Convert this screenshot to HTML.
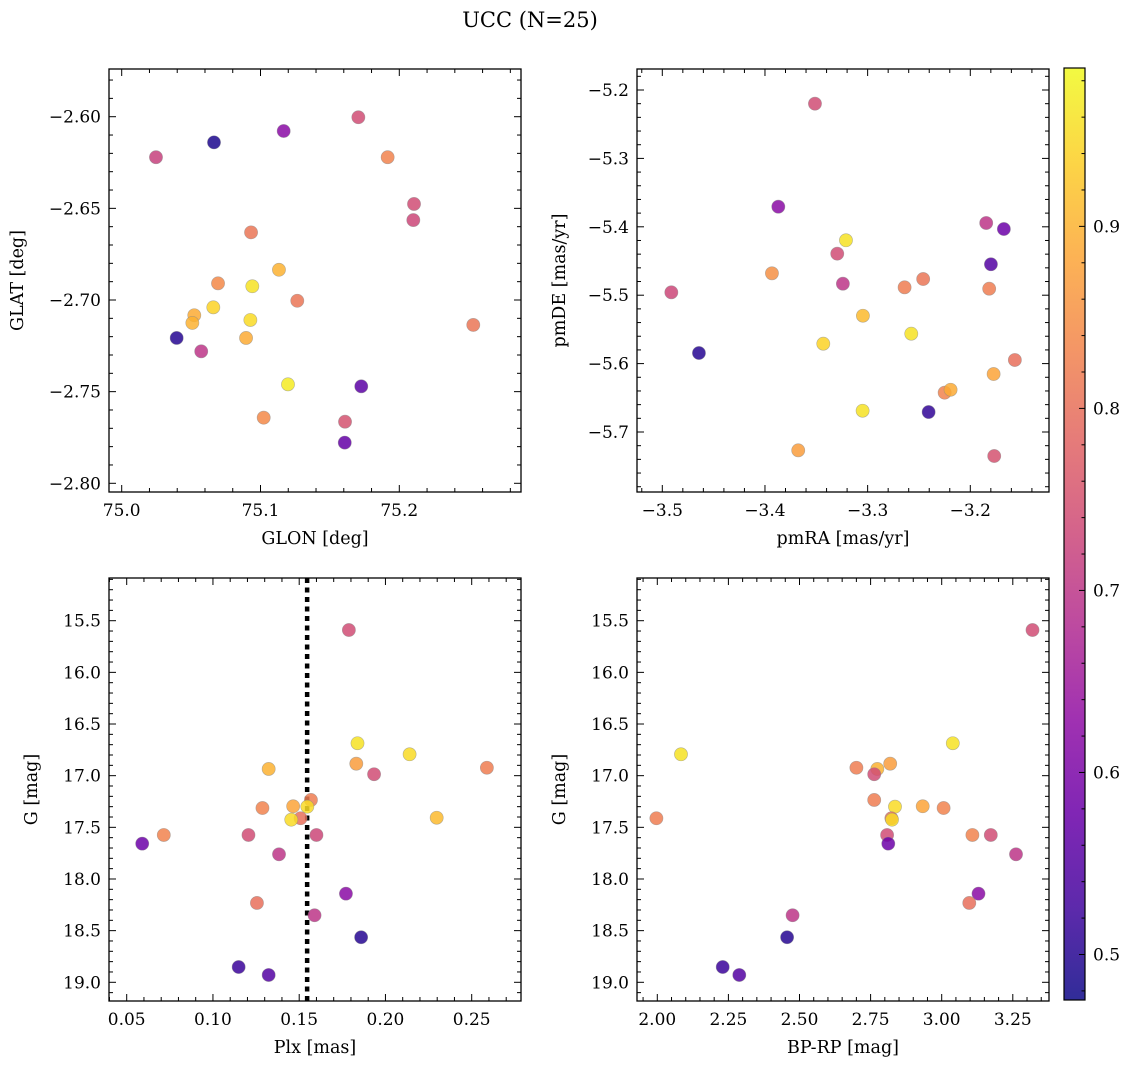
<!DOCTYPE html>
<html><head><meta charset="utf-8">
<style>
html,body{margin:0;padding:0;background:#fff;}
svg{display:block;font-family:"DejaVu Serif","Liberation Serif",serif;}
</style></head>
<body>
<svg id="fig" width="1136" height="1068" viewBox="0 0 1136 1068" xmlns="http://www.w3.org/2000/svg">
<text x="530" y="27" text-anchor="middle" font-size="21">UCC (N=25)</text>
</svg>
<script>
// ---- data (per panel) ----
const glon = [75.0247,75.0665,75.1167,75.1705,75.1916,75.2106,75.2101,75.0932,75.1133,75.0694,75.0941,75.1265,75.0660,75.0523,75.0509,75.0927,75.0396,75.0573,75.0896,75.2533,75.1198,75.1726,75.1023,75.1609,75.1607];
const glat = [-2.6221,-2.6140,-2.6078,-2.6003,-2.6221,-2.6476,-2.6564,-2.6631,-2.6835,-2.6909,-2.6925,-2.7004,-2.7040,-2.7083,-2.7125,-2.7109,-2.7207,-2.7280,-2.7207,-2.7136,-2.7460,-2.7471,-2.7642,-2.7664,-2.7778];
const probA = [0.72,0.49,0.62,0.74,0.83,0.74,0.73,0.81,0.90,0.84,0.96,0.81,0.94,0.89,0.90,0.95,0.50,0.70,0.89,0.81,0.97,0.56,0.84,0.75,0.57];

const pmra = [-3.3513,-3.3870,-3.1845,-3.1673,-3.3211,-3.3296,-3.1799,-3.3932,-3.2459,-3.3241,-3.2640,-3.1816,-3.4912,-3.3046,-3.2575,-3.3432,-3.4643,-3.1566,-3.1773,-3.2250,-3.2192,-3.3049,-3.2406,-3.3676,-3.1767];
const pmde = [-5.2200,-5.3706,-5.3944,-5.4032,-5.4197,-5.4393,-5.4548,-5.4680,-5.4763,-5.4832,-5.4885,-5.4905,-5.4958,-5.5300,-5.5563,-5.5709,-5.5845,-5.5947,-5.6152,-5.6425,-5.6382,-5.6689,-5.6708,-5.7268,-5.7351];
const probB = [0.74,0.62,0.70,0.58,0.96,0.74,0.55,0.85,0.81,0.70,0.82,0.82,0.73,0.91,0.96,0.94,0.50,0.80,0.88,0.83,0.89,0.96,0.51,0.87,0.75];

const plx = [0.1788,0.1838,0.2140,0.1323,0.1831,0.2588,0.1934,0.1568,0.1287,0.1465,0.1547,0.1508,0.1454,0.2297,0.0715,0.0590,0.1206,0.1600,0.1383,0.1771,0.1255,0.1589,0.1859,0.1149,0.1323];
const gC = [15.590,16.686,16.793,16.935,16.884,16.923,16.986,17.235,17.313,17.296,17.300,17.412,17.426,17.407,17.574,17.658,17.574,17.574,17.761,18.142,18.232,18.351,18.564,18.852,18.929];
const probC = [0.74,0.96,0.95,0.90,0.87,0.82,0.74,0.82,0.83,0.88,0.95,0.80,0.95,0.91,0.83,0.58,0.74,0.73,0.70,0.62,0.80,0.70,0.50,0.52,0.55];

const bprp = [3.3193,3.0390,2.0833,2.7001,2.7736,2.8189,2.7627,2.7627,2.9332,3.0067,2.8358,2.8231,2.8253,1.9968,2.8080,2.8122,3.1080,3.1726,3.2613,3.1294,3.0970,2.4757,2.4564,2.2300,2.2883];
const gD = [15.590,16.686,16.793,16.923,16.935,16.884,16.986,17.235,17.296,17.313,17.300,17.412,17.426,17.412,17.574,17.658,17.574,17.574,17.761,18.142,18.232,18.351,18.564,18.852,18.929];
const probD = [0.74,0.96,0.96,0.82,0.90,0.87,0.74,0.82,0.88,0.83,0.95,0.80,0.95,0.82,0.74,0.58,0.83,0.74,0.70,0.62,0.80,0.70,0.50,0.52,0.55];

const plxCut = [0.1546];
const cbTicks = [0.5,0.6,0.7,0.8,0.9];
const cbRange = [0.475,0.987];

// ---- helpers ----
const NS = "http://www.w3.org/2000/svg";
const svg = document.getElementById('fig');
function el(tag, attrs, parent){const e=document.createElementNS(NS,tag);for(const k in attrs)e.setAttribute(k,attrs[k]);(parent||svg).appendChild(e);return e;}
function lin(d0,d1,r0,r1){return v=>r0+(v-d0)*(r1-r0)/(d1-d0);}
const stops=["#0d0887","#41049d","#6a00a8","#8f0da4","#b12a90","#cc4778","#e16462","#f2844b","#fca636","#fcce25","#f0f921"];
function hex(h){return [parseInt(h.slice(1,3),16),parseInt(h.slice(3,5),16),parseInt(h.slice(5,7),16)];}
function plasma(t){t=Math.max(0,Math.min(1,t));const p=t*10,i=Math.min(9,Math.floor(p)),f=p-i;const a=hex(stops[i]),b=hex(stops[i+1]);return 'rgb('+a.map((c,k)=>Math.round(c+(b[k]-c)*f)).join(',')+')';}
function cmap(v){return plasma((v-cbRange[0])/(cbRange[1]-cbRange[0]));}
function fmt(v,d){return (v<0?'\u2212':'')+Math.abs(v).toFixed(d);}

function panel(o){
  const g=el('g',{});
  
  
  const L=o.L,R=o.R,T=o.T,B=o.B;
  const sx=lin(o.xd[0],o.xd[1],o.xr[0],o.xr[1]);
  const sy=lin(o.yd[0],o.yd[1],o.yr[0],o.yr[1]);
  // ticks
  const tg=el('g',{stroke:'#000','stroke-width':1},g);
  function ticks(step,minor,lo,hi){const a=[];const s=Math.ceil(lo/step-1e-6);for(let k=s;k*step<=hi+1e-9;k++)a.push(k*step);return a;}
  const xv0=o.xd[0]+(L-o.xr[0])*(o.xd[1]-o.xd[0])/(o.xr[1]-o.xr[0]);
  const xv1=o.xd[0]+(R-o.xr[0])*(o.xd[1]-o.xd[0])/(o.xr[1]-o.xr[0]);
  const yv0=o.yd[0]+(T-o.yr[0])*(o.yd[1]-o.yd[0])/(o.yr[1]-o.yr[0]);
  const yv1=o.yd[0]+(B-o.yr[0])*(o.yd[1]-o.yd[0])/(o.yr[1]-o.yr[0]);
  const xlo=Math.min(xv0,xv1),xhi=Math.max(xv0,xv1),ylo=Math.min(yv0,yv1),yhi=Math.max(yv0,yv1);
  ticks(o.xminor,0,xlo,xhi).forEach(v=>{const x=sx(v);const maj=Math.abs(v/o.xmajor-Math.round(v/o.xmajor))<1e-4;const len=maj?7:4;
    el('line',{x1:x,x2:x,y1:B,y2:B-len},tg);el('line',{x1:x,x2:x,y1:T,y2:T+len},tg);
    if(maj){const t=el('text',{x:x,y:B+24,'text-anchor':'middle','font-size':17,stroke:'none'},g);t.textContent=fmt(v,o.xdec);
      
      }});
  ticks(o.yminor,0,ylo,yhi).forEach(v=>{const y=sy(v);const maj=Math.abs(v/o.ymajor-Math.round(v/o.ymajor))<1e-4;const len=maj?7:4;
    el('line',{x1:L,x2:L+len,y1:y,y2:y},tg);el('line',{x1:R,x2:R-len,y1:y,y2:y},tg);
    if(maj){const t=el('text',{x:L-8,y:y+6,'text-anchor':'end','font-size':17,stroke:'none'},g);t.textContent=fmt(v,o.ydec);
      
      }});
  // extra line
  if(o.vline!==undefined){const x=sx(o.vline);const ln=el('line',{x1:x,x2:x,y1:T,y2:B,stroke:'#000','stroke-width':4.5,'stroke-dasharray':'5,4.5'},g);
    
    }
  // points
  for(let i=0;i<o.xs.length;i++){
    const c=el('circle',{cx:sx(o.xs[i]),cy:sy(o.ys[i]),r:6.6,fill:cmap(o.cs[i]),'fill-opacity':0.85,stroke:'#888','stroke-opacity':0.6,'stroke-width':0.6},g);
    
    
  }
  el('rect',{x:L,y:T,width:R-L,height:B-T,fill:'none',stroke:'#000','stroke-width':1.3},g);
  const xl=el('text',{x:(L+R)/2,y:B+52,'text-anchor':'middle','font-size':17.5},g);xl.textContent=o.xlabel;
  
  
  const yx=o.ylx,yy=(T+B)/2;
  const yl=el('text',{x:yx,y:yy,'text-anchor':'middle','font-size':17.5,transform:'rotate(-90 '+yx+' '+yy+')'},g);yl.textContent=o.ylabel;
  
  
}

panel({name:'glon-glat-panel',L:109,R:521,T:69,B:492,xd:[75.0,75.2],xr:[121.7,399.3],yd:[-2.60,-2.80],yr:[116.7,483.3],
  xmajor:0.1,xminor:0.02,ymajor:0.05,yminor:0.01,xdec:1,ydec:2,xs:glon,ys:glat,cs:probA,xlabel:'GLON [deg]',ylabel:'GLAT [deg]',ylx:23});
panel({name:'pm-panel',L:637,R:1049,T:69,B:492,xd:[-3.5,-3.2],xr:[662.3,970.3],yd:[-5.2,-5.7],yr:[90,432],
  xmajor:0.1,xminor:0.02,ymajor:0.1,yminor:0.02,xdec:1,ydec:1,xs:pmra,ys:pmde,cs:probB,xlabel:'pmRA [mas/yr]',ylabel:'pmDE [mas/yr]',ylx:565});
panel({name:'plx-g-panel',L:109,R:521,T:578,B:1001,xd:[0.05,0.25],xr:[126.7,471.7],yd:[15.5,19.0],yr:[620.7,982.3],
  xmajor:0.05,xminor:0.01,ymajor:0.5,yminor:0.1,xdec:2,ydec:1,xs:plx,ys:gC,cs:probC,xlabel:'Plx [mas]',ylabel:'G [mag]',ylx:37,vline:plxCut[0]});
panel({name:'cmd-panel',L:637,R:1049,T:578,B:1001,xd:[2.0,3.25],xr:[657.3,1012.8],yd:[15.5,19.0],yr:[620.7,982.3],
  xmajor:0.25,xminor:0.05,ymajor:0.5,yminor:0.1,xdec:2,ydec:1,xs:bprp,ys:gD,cs:probD,xlabel:'BP-RP [mag]',ylabel:'G [mag]',ylx:565});

// ---- colorbar ----
const cb=el('g',{});


const defs=el('defs',{},cb);
const grad=el('linearGradient',{id:'cbg',x1:0,y1:1,x2:0,y2:0},defs);
for(let k=0;k<=10;k++){el('stop',{offset:k/10,'stop-color':stops[k]},grad);}
const CT=68,CB=1000,CL=1064,CR=1085;
el('rect',{x:CL,y:CT,width:CR-CL,height:CB-CT,fill:'url(#cbg)','fill-opacity':0.85},cb);
const cy=lin(cbRange[0],cbRange[1],CB,CT);
for(let k=Math.ceil(cbRange[0]/0.02);k*0.02<=cbRange[1];k++){const v=k*0.02;const y=cy(v);const maj=Math.abs(v*10-Math.round(v*10))<1e-6;
  el('line',{x1:CR,x2:CR-(maj?6:3.5),y1:y,y2:y,stroke:'#000','stroke-width':1},cb);}
cbTicks.forEach(v=>{const t=el('text',{x:CR+8,y:cy(v)+6,'font-size':17},cb);t.textContent=v.toFixed(1);
  
  });
el('rect',{x:CL,y:CT,width:CR-CL,height:CB-CT,fill:'none',stroke:'#000','stroke-width':1.2},cb);
</script>
</body></html>
